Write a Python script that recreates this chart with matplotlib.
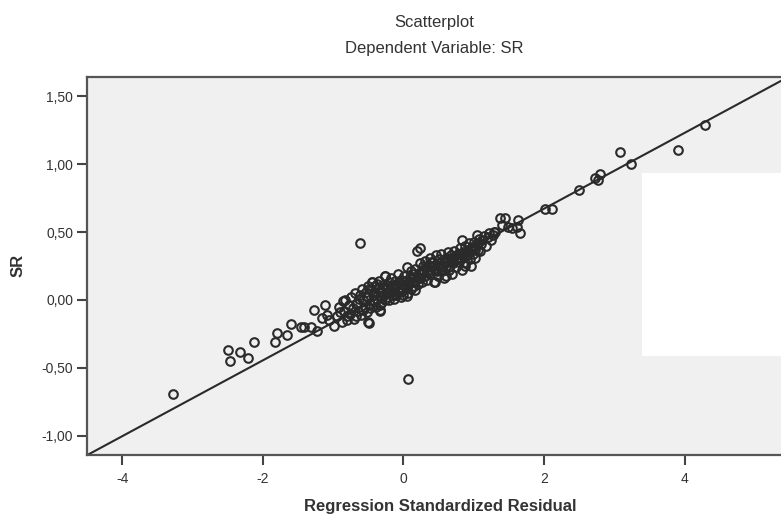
import matplotlib
matplotlib.use("Agg")
import matplotlib.pyplot as plt
from matplotlib.patches import Rectangle

plt.rcParams["font.family"] = ["Liberation Sans", "DejaVu Sans"]

# outlying / sparse points (regression standardized residual, SR)
SPARSE_X = [-3.28, -2.49, -2.46, -2.32, -2.21, -2.12, -1.82, -1.80, -1.65, -1.60,
            -1.46, -1.41, -1.32, -1.23, -1.27, -1.12, -1.09, -1.16, -1.06, -0.99,
            -0.90, -0.86, -0.81, -0.67, -0.50, -0.34, -0.26, -0.45, -0.10, -0.62,
            0.06, -0.49, -0.33, 0.05, 0.23, 0.45, 0.61, 0.83, 0.87, 0.96,
            1.02, 1.06, 1.04, 1.21, 1.30, 1.37, 1.45, 1.40, 1.63, 1.61,
            1.65, 1.54, 1.49, 1.28, 2.01, 2.11, 2.49, 2.72, 2.76, 2.80,
            3.08, 3.23, 3.90, 4.28]
SPARSE_Y = [-0.69, -0.37, -0.45, -0.38, -0.43, -0.31, -0.31, -0.24, -0.26, -0.18,
            -0.20, -0.20, -0.20, -0.23, -0.07, -0.04, -0.11, -0.13, -0.15, -0.19,
            -0.09, -0.01, -0.15, -0.12, -0.16, -0.07, 0.18, 0.13, 0.04, 0.42,
            -0.58, -0.17, -0.08, 0.03, 0.38, 0.13, 0.18, 0.44, 0.25, 0.25,
            0.31, 0.37, 0.48, 0.49, 0.50, 0.60, 0.60, 0.55, 0.59, 0.54,
            0.49, 0.53, 0.54, 0.50, 0.67, 0.67, 0.81, 0.90, 0.88, 0.93,
            1.09, 1.00, 1.10, 1.29]

# dense central cluster
CLUSTER_X = [-0.95, -0.92, -0.88, -0.85, -0.83, -0.80, -0.78, -0.76, -0.74, -0.72,
             -0.70, -0.69, -0.66, -0.64, -0.62, -0.61, -0.59, -0.57, -0.55, -0.54,
             -0.52, -0.51, -0.50, -0.48, -0.46, -0.45, -0.44, -0.42, -0.41, -0.39,
             -0.37, -0.36, -0.35, -0.33, -0.32, -0.30, -0.29, -0.27, -0.26, -0.25,
             -0.24, -0.22, -0.21, -0.19, -0.18, -0.17, -0.16, -0.14, -0.13, -0.12,
             -0.10, -0.09, -0.08, -0.07, -0.05, -0.04, -0.03, -0.02, 0.00, 0.01,
             0.02, 0.04, 0.05, 0.06, 0.07, 0.09, 0.10, 0.11, 0.13, 0.14,
             0.15, 0.17, 0.18, 0.19, 0.20, 0.22, 0.23, 0.24, 0.26, 0.27,
             0.28, 0.30, 0.31, 0.33, 0.34, 0.36, 0.37, 0.38, 0.40, 0.42,
             0.43, 0.45, 0.46, 0.48, 0.49, 0.51, 0.52, 0.54, 0.55, 0.57,
             0.58, 0.60, 0.61, 0.63, 0.64, 0.66, 0.67, 0.69, 0.70, 0.72,
             0.74, 0.75, 0.77, 0.79, 0.80, 0.82, 0.83, 0.85, 0.87, 0.88,
             0.90, 0.92, 0.93, 0.95, 0.97, 0.99, 1.00, 1.02, 1.05, 1.07,
             1.09, 1.12, 1.15, 1.17, 1.20, 1.24, 1.27,
             -0.68, -0.63, -0.58, -0.53, -0.49, -0.47, -0.43, -0.40, -0.38, -0.34,
             -0.31, -0.28, -0.23, -0.20, -0.15, -0.11, -0.06, -0.01, 0.03, 0.08,
             0.12, 0.16, 0.21, 0.25, 0.29, 0.32, 0.35, 0.39, 0.44, 0.47,
             0.50, 0.56, 0.59, 0.62, 0.65, 0.68, 0.71, 0.76, 0.81, 0.86,
             0.91, 0.96, 1.01, 1.10]
CLUSTER_Y = [-0.12, -0.05, -0.16, -0.08, 0.00, -0.12, -0.04, -0.10, 0.02, -0.06,
             -0.14, 0.05, -0.02, -0.08, 0.04, -0.11, 0.08, 0.00, -0.05, 0.06,
             -0.09, 0.10, 0.02, -0.03, 0.07, 0.13, -0.01, 0.04, 0.10, -0.05,
             0.01, 0.08, 0.14, 0.03, -0.02, 0.06, 0.11, 0.00, 0.18, 0.05,
             0.09, 0.02, 0.13, 0.07, 0.16, 0.04, 0.10, 0.01, 0.08, 0.14,
             0.04, 0.11, 0.19, 0.06, 0.09, 0.15, 0.02, 0.12, 0.07, 0.18,
             0.10, 0.14, 0.24, 0.05, 0.11, 0.17, 0.08, 0.21, 0.13, 0.19,
             0.10, 0.23, 0.15, 0.36, 0.12, 0.20, 0.27, 0.16, 0.22, 0.13,
             0.25, 0.18, 0.29, 0.21, 0.15, 0.26, 0.31, 0.19, 0.24, 0.28,
             0.13, 0.22, 0.33, 0.26, 0.18, 0.30, 0.24, 0.34, 0.21, 0.28,
             0.16, 0.31, 0.25, 0.35, 0.22, 0.29, 0.33, 0.19, 0.27, 0.36,
             0.30, 0.24, 0.34, 0.28, 0.38, 0.31, 0.22, 0.35, 0.40, 0.27,
             0.33, 0.37, 0.42, 0.30, 0.39, 0.34, 0.43, 0.37, 0.41, 0.45,
             0.36, 0.44, 0.47, 0.40, 0.46, 0.44, 0.48,
             -0.03, 0.01, -0.07, 0.03, 0.08, -0.06, 0.00, 0.06, 0.12, -0.04,
             0.09, 0.04, 0.11, 0.00, 0.06, 0.10, 0.13, 0.04, 0.09, 0.13,
             0.16, 0.07, 0.16, 0.19, 0.21, 0.24, 0.20, 0.28, 0.25, 0.21,
             0.27, 0.25, 0.29, 0.28, 0.24, 0.31, 0.29, 0.31, 0.34, 0.32,
             0.36, 0.37, 0.39, 0.41]

# fit line (SR on residual)
FIT_INTERCEPT = 0.114
FIT_SLOPE = 0.279

X_TICKS = [-4, -2, 0, 2, 4]
Y_TICKS = [-1.0, -0.5, 0.0, 0.5, 1.0, 1.5]
Y_TICK_LABELS = ["-1,00", "-0,50", "0,00", "0,50", "1,00", "1,50"]

GREY = "#333333"


def main():
    fig = plt.figure(figsize=(7.81, 5.18), dpi=100)
    ax = fig.add_axes([87 / 781, 1 - 455 / 518, 697 / 781, 378 / 518])
    ax.set_facecolor("#f0f0f0")

    # white patch over the right part of the plot area (present in the source image)
    ax.add_patch(Rectangle((3.39, -0.41), 3.0, 1.344, facecolor="white",
                           edgecolor="none", zorder=0.5))

    ax.axline((0, FIT_INTERCEPT), slope=FIT_SLOPE, color="#2a2a2a", lw=1.5, zorder=2)
    ax.plot(CLUSTER_X + SPARSE_X, CLUSTER_Y + SPARSE_Y, "o", ms=6.2, mfc="none",
            mec="#2a2a2a", mew=1.5, zorder=3)

    ax.set_xlim(-4.50, 5.41)
    ax.set_ylim(-1.14, 1.64)
    ax.set_xticks(X_TICKS)
    ax.set_xticklabels([str(t) for t in X_TICKS])
    ax.set_yticks(Y_TICKS)
    ax.set_yticklabels(Y_TICK_LABELS)
    ax.tick_params(axis="both", length=7, width=1.5, color="#444444",
                   labelsize=10, labelcolor=GREY)
    ax.tick_params(axis="x", pad=5)
    ax.tick_params(axis="y", pad=3)
    for side in ("left", "bottom", "top"):
        ax.spines[side].set_color("#555555")
        ax.spines[side].set_linewidth(1.6)
    ax.spines["right"].set_visible(False)

    fig.text(434 / 781, 1 - 23 / 518, "Scatterplot", ha="center", va="center",
             fontsize=12, color=GREY)
    fig.text(434 / 781, 1 - 48 / 518, "Dependent Variable: SR", ha="center",
             va="center", fontsize=12, color=GREY)
    fig.text(440 / 781, 1 - 506 / 518, "Regression Standardized Residual",
             ha="center", va="center", fontsize=12, fontweight="bold", color=GREY)
    fig.text(18 / 781, 1 - 265 / 518, "SR", ha="center", va="center", rotation=90,
             fontsize=12, fontweight="bold", color=GREY)

    fig.savefig("out.png", dpi=100)


if __name__ == "__main__":
    main()
